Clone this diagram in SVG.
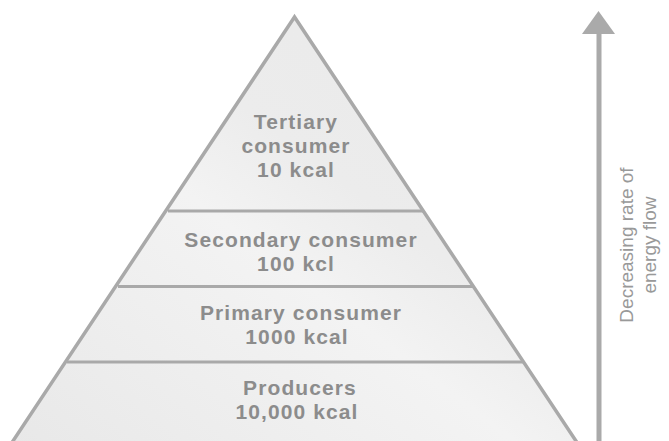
<svg xmlns="http://www.w3.org/2000/svg" width="669" height="441" viewBox="0 0 669 441">
  <style>
    .lbl { font-family: "Liberation Sans", Arial, sans-serif; font-weight: bold; font-size: 21px; letter-spacing: 1.1px; fill: #8c8c8c; text-anchor: middle; }
    .side { font-family: "Liberation Sans", Arial, sans-serif; font-size: 19px; fill: #999999; text-anchor: middle; }
    .sep { stroke: #a9a9a9; stroke-width: 3; fill: none; }
  </style>
  <defs>
    <linearGradient id="fillg" x1="0" y1="1" x2="1" y2="0">
      <stop offset="0" stop-color="#e8e8e8"/>
      <stop offset="0.45" stop-color="#f3f3f3"/>
      <stop offset="0.6" stop-color="#ececec"/>
      <stop offset="1" stop-color="#e9e9e9"/>
    </linearGradient>
  </defs>
  <rect width="669" height="441" fill="#ffffff"/>
  <g id="pyramid">
    <polygon points="294.5,17 9,447 580,447" fill="url(#fillg)" stroke="#a9a9a9" stroke-width="3.5" stroke-linejoin="miter"/>
  </g>
  <g id="separators">
    <line class="sep" x1="168" y1="211" x2="423" y2="211"/>
    <line class="sep" x1="118" y1="286.5" x2="473" y2="286.5"/>
    <line class="sep" x1="67" y1="362" x2="523" y2="362"/>
  </g>
  <g id="tertiary">
    <text class="lbl" x="296" y="129">Tertiary</text>
    <text class="lbl" x="296" y="153">consumer</text>
    <text class="lbl" x="296" y="177">10 kcal</text>
  </g>
  <g id="secondary">
    <text class="lbl" x="301" y="247">Secondary consumer</text>
    <text class="lbl" x="296" y="271">100 kcl</text>
  </g>
  <g id="primary">
    <text class="lbl" x="301" y="320">Primary consumer</text>
    <text class="lbl" x="297" y="344">1000 kcal</text>
  </g>
  <g id="producers">
    <text class="lbl" x="300" y="395">Producers</text>
    <text class="lbl" x="297" y="419">10,000 kcal</text>
  </g>
  <g id="connectors">
    <line x1="599" y1="32" x2="599" y2="441" stroke="#aaaaaa" stroke-width="5"/>
    <polygon points="598.5,11 582,34 615,34" fill="#aaaaaa"/>
  </g>
  <g id="axis-label">
    <text class="side" transform="translate(633,245) rotate(-90)">Decreasing rate of</text>
    <text class="side" transform="translate(656,245) rotate(-90)">energy flow</text>
  </g>
</svg>
